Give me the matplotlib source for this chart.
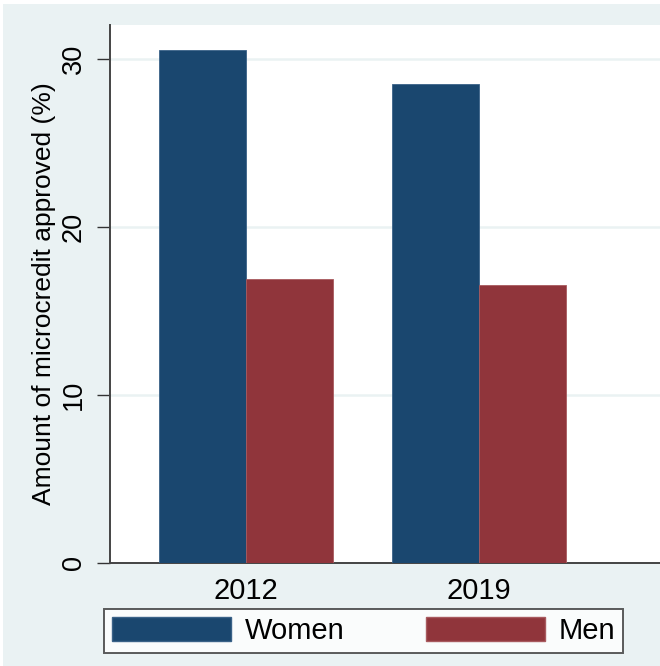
import matplotlib
matplotlib.use("Agg")
import matplotlib.pyplot as plt
import numpy as np
from matplotlib.patches import Rectangle, Patch

# data
years = ["2012", "2019"]
women = [30.5, 28.5]
men = [16.9, 16.55]
series_names = ["Women", "Men"]

navy = "#1a476f"
maroon = "#90353b"
bg = "#eaf2f3"

plt.rcParams["font.family"] = ["Liberation Sans", "DejaVu Sans"]

fig = plt.figure(figsize=(6.6, 6.66), dpi=100, facecolor="white")
# stata style outer region (small white strip top/left like the export)
fig.patches.append(Rectangle((3 / 660, 0), 1, 1 - 4 / 666, transform=fig.transFigure,
                             facecolor=bg, edgecolor="none", zorder=-10))

ax = fig.add_axes([110 / 660, 1 - 563 / 666, 1 - 110 / 660, (563 - 25) / 666])
ax.set_facecolor("white")

x = np.arange(len(years))
w = 0.374
ax.bar(x - w / 2, women, w, color=navy, edgecolor="#3a6288", linewidth=0.6, zorder=3)
ax.bar(x + w / 2, men, w, color=maroon, edgecolor="#a85a5f", linewidth=0.6, zorder=3)

ax.set_xlim(-0.584, 1.78)
ax.set_ylim(0, 32)

ax.set_yticks([0, 10, 20, 30])
ax.set_yticklabels(["0", "10", "20", "30"], rotation=90, va="center", fontsize=19.5)
ax.tick_params(axis="y", length=9.5, width=1.0, color="#333333", pad=7)
ax.set_xticks(x)
ax.set_xticklabels(years, fontsize=21)
ax.tick_params(axis="x", length=0, pad=10)

ax.grid(axis="y", color=bg, linewidth=1.8, zorder=0)
ax.set_axisbelow(True)

for s in ["top", "right"]:
    ax.spines[s].set_visible(False)
for s in ["left", "bottom"]:
    ax.spines[s].set_color("#444444")
    ax.spines[s].set_linewidth(1.4)

ax.set_ylabel("Amount of microcredit approved (%)", fontsize=19)
ax.yaxis.set_label_coords(-54 / 550, 0.5)

handles = [Patch(facecolor=navy, edgecolor="#3a6288"), Patch(facecolor=maroon, edgecolor="#a85a5f")]
leg = fig.legend(handles, series_names, ncol=2, loc="center",
                 bbox_to_anchor=(363.5 / 660, 1 - 631 / 666), fontsize=21,
                 frameon=True, fancybox=False, edgecolor="#333333",
                 handlelength=4.1, handleheight=0.85, handletextpad=0.45,
                 columnspacing=2.8, borderpad=0.28, borderaxespad=0)
leg.get_frame().set_linewidth(1.4)
leg.get_frame().set_facecolor("white")

fig.savefig("out.png", dpi=100, facecolor=fig.get_facecolor())
